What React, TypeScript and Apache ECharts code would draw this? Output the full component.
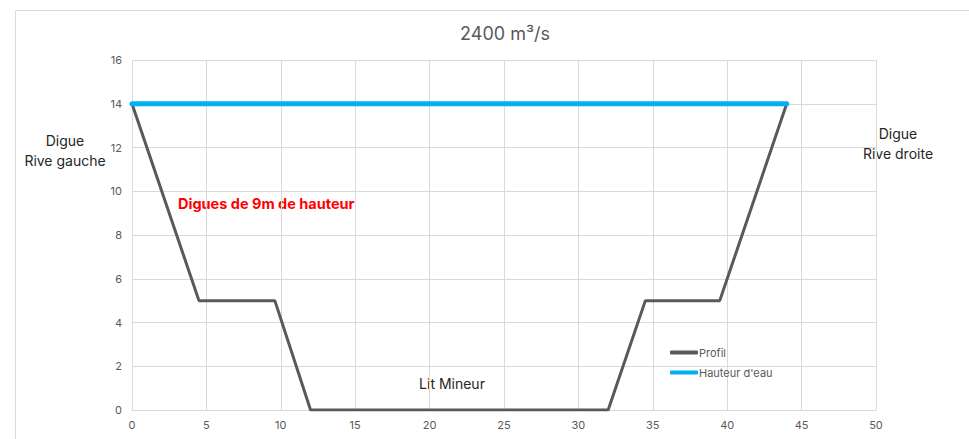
import React, { useEffect, useRef } from "react";
import * as echarts from "echarts";

const profilX = [0, 4.5, 9.6, 12, 32, 34.5, 39.5, 44];
const profilY = [14, 5, 5, 0, 0, 5, 5, 14];
const eauX = [0, 44];
const eauY = [14, 14];
const titleText = "2400 m³/s";
const seriesNames = ["Profil", "Hauteur d'eau"];

export default function App() {
  const ref = useRef<HTMLDivElement>(null);
  useEffect(() => {
    const chart = echarts.init(ref.current!, null, { renderer: "svg" });
    const font = "Inter, 'Open Sans', sans-serif";
    chart.setOption({
      animation: false,
      backgroundColor: "#ffffff",
      title: {
        text: titleText,
        left: 500,
        top: 19,
        textAlign: "center",
        textStyle: { color: "#595959", fontSize: 18, fontWeight: "normal", fontFamily: font },
      },
      grid: { left: 132, right: 93, top: 60, bottom: 29 },
      xAxis: {
        type: "value",
        min: 0,
        max: 50,
        interval: 5,
        axisLine: { show: true, lineStyle: { color: "#d9d9d9", width: 1 } },
        axisTick: { show: false },
        axisLabel: { color: "#595959", fontSize: 11, fontFamily: font, margin: 9 },
        splitLine: { show: true, lineStyle: { color: "#d9d9d9", width: 1 } },
      },
      yAxis: {
        type: "value",
        min: 0,
        max: 16,
        interval: 2,
        axisLine: { show: false },
        axisTick: { show: false },
        axisLabel: { color: "#595959", fontSize: 11, fontFamily: font, margin: 10 },
        splitLine: { show: true, lineStyle: { color: "#d9d9d9", width: 1 } },
      },
      legend: {
        orient: "vertical",
        left: 665,
        top: 342,
        itemGap: 9,
        itemWidth: 28,
        itemHeight: 4,
        icon: "roundRect",
        textStyle: { color: "#595959", fontSize: 11, fontFamily: font, padding: [0, 0, 0, -4] },
        data: seriesNames,
      },
      series: [
        {
          name: seriesNames[0],
          type: "line",
          data: profilX.map((x, i) => [x, profilY[i]]),
          showSymbol: false,
          symbol: "none",
          lineStyle: { color: "#595959", width: 3 },
          itemStyle: { color: "#595959" },
          z: 2,
        },
        {
          name: seriesNames[1],
          type: "line",
          data: eauX.map((x, i) => [x, eauY[i]]),
          showSymbol: false,
          symbol: "none",
          lineStyle: { color: "#00B0F0", width: 5, cap: "round" },
          itemStyle: { color: "#00B0F0" },
          z: 3,
        },
      ],
      graphic: [
        {
          type: "rect",
          left: 13,
          top: 8,
          shape: { width: 1000, height: 500 },
          style: { fill: "none", stroke: "#d9d9d9", lineWidth: 1 },
          silent: true,
          z: -10,
        },
        {
          type: "text",
          x: 65,
          y: 130,
          style: {
            text: "Digue\nRive gauche",
            align: "center",
            fill: "#262626",
            fontSize: 14,
            lineHeight: 20,
            fontFamily: font,
          },
        },
        {
          type: "text",
          x: 898,
          y: 123,
          style: {
            text: "Digue\nRive droite",
            align: "center",
            fill: "#262626",
            fontSize: 14,
            lineHeight: 20,
            fontFamily: font,
          },
        },
        {
          type: "text",
          x: 178,
          y: 196,
          style: {
            text: "Digues de 9m de hauteur",
            fill: "#ff0000",
            fontSize: 14.5,
            fontWeight: "bold",
            fontFamily: font,
          },
        },
        {
          type: "text",
          x: 452,
          y: 376,
          style: {
            text: "Lit Mineur",
            align: "center",
            fill: "#262626",
            fontSize: 14,
            fontFamily: font,
          },
        },
      ],
    });
    return () => chart.dispose();
  }, []);
  return (
    <div
      ref={ref}
      style={{ position: "fixed", left: 0, top: 0, width: 969, height: 439 }}
    />
  );
}
